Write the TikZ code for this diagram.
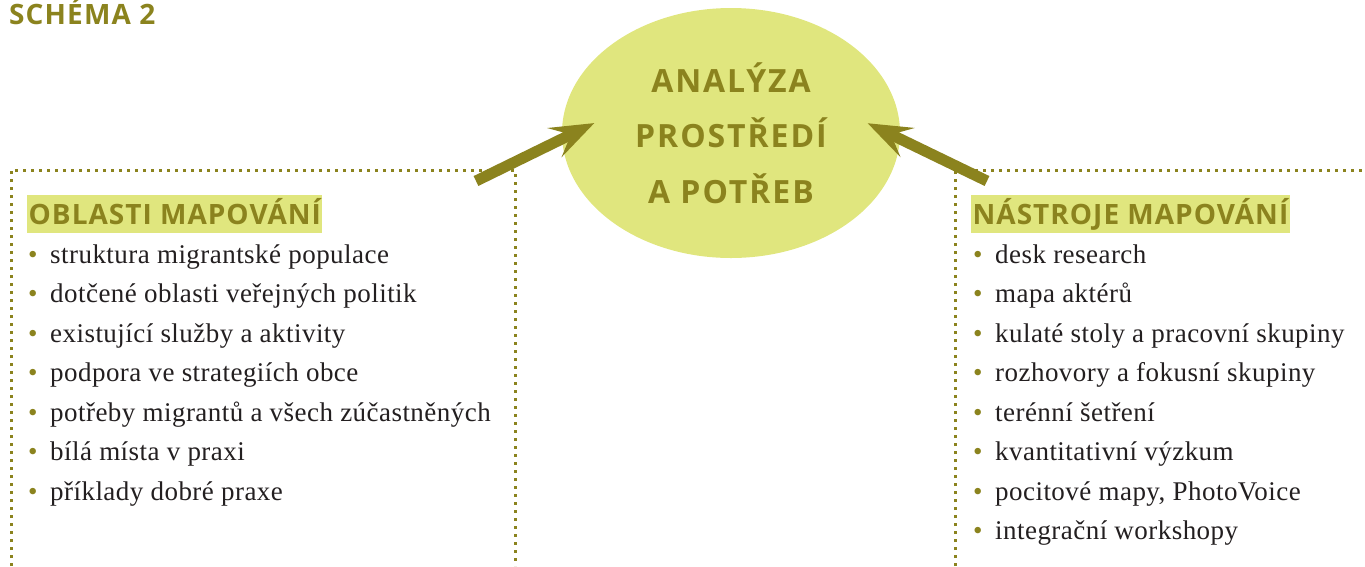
\documentclass[tikz,border=0pt]{standalone}
\usepackage{fontspec}
\setmainfont{Liberation Serif}[LetterSpace=1.7]
\newfontfamily\headfont{Open Sans}
\usetikzlibrary{arrows.meta}
\usetikzlibrary{shapes.geometric}
\definecolor{olivedark}{RGB}{139,131,30}
\definecolor{limefill}{RGB}{224,230,126}
\definecolor{bodygray}{RGB}{35,31,32}
\newcommand{\bul}{\makebox[22pt][l]{\textcolor{olivedark}{•}}}

\begin{document}
\begin{tikzpicture}[x=1pt,y=-1pt,
  dotline/.style={olivedark, line width=3pt, dash pattern=on 3pt off 5pt},
  bigarrow/.style={olivedark, line width=11pt, -{Stealth[length=44pt,width=32pt,inset=18pt]}},
  heading/.style={anchor=north west, fill=limefill, text=olivedark, inner xsep=1.5pt, inner ysep=0pt,
    minimum height=38pt, text height=20pt, text depth=0pt,
    font=\headfont\bfseries\addfontfeatures{LetterSpace=3.6}\fontsize{28}{30}\selectfont},
  item/.style={anchor=base west, inner sep=0pt, text=bodygray, font=\fontsize{27}{30}\selectfont}]
\useasboundingbox (0,0) rectangle (1365,566);
% title
\node[anchor=base west, inner sep=0pt, text=olivedark,
  font=\headfont\bfseries\addfontfeatures{LetterSpace=4}\fontsize{28}{30}\selectfont] (schema) at (9,24) {SCHÉMA 2};
% dotted frames
\draw[dotline] (11,566) -- (11,170) -- (515,170) -- (515,566);
\draw[dotline] (955,566) -- (955,170) -- (1365,170);
% central ellipse
\node[ellipse, fill=limefill, minimum width=338pt, minimum height=250pt, inner sep=0pt, align=center, text=olivedark,
  font=\headfont\bfseries\addfontfeatures{LetterSpace=6}\fontsize{32}{55.5}\selectfont] (analyza) at (731,133) {ANALÝZA\\PROSTŘEDÍ\\A POTŘEB};
% arrows into the ellipse
\coordinate (tailL) at (476,181);
\coordinate (tailR) at (987,181);
\draw[bigarrow, shorten >=-36pt] (tailL) -- (analyza.182);
\draw[bigarrow, shorten >=-36pt] (tailR) -- (analyza.-2);
% headings
\node[heading] (oblasti) at (27,195) {OBLASTI MAPOVÁNÍ};
\node[heading] (nastroje) at (971,195) {NÁSTROJE MAPOVÁNÍ};
% left list
\node[item] (l1) at (28,263) {\bul struktura migrantské populace};
\node[item] (l2) at (28,302.5) {\bul dotčené oblasti veřejných politik};
\node[item] (l3) at (28,342) {\bul existující služby a aktivity};
\node[item] (l4) at (28,381.5) {\bul podpora ve strategiích obce};
\node[item] (l5) at (28,421) {\bul potřeby migrantů a všech zúčastněných};
\node[item] (l6) at (28,460.5) {\bul bílá místa v praxi};
\node[item] (l7) at (28,500) {\bul příklady dobré praxe};
% right list
\node[item] (r1) at (973,263) {\bul desk research};
\node[item] (r2) at (973,302.5) {\bul mapa aktérů};
\node[item] (r3) at (973,342) {\bul kulaté stoly a pracovní skupiny};
\node[item] (r4) at (973,381.5) {\bul rozhovory a fokusní skupiny};
\node[item] (r5) at (973,421) {\bul terénní šetření};
\node[item] (r6) at (973,460.5) {\bul kvantitativní výzkum};
\node[item] (r7) at (973,500) {\bul pocitové mapy, PhotoVoice};
\node[item] (r8) at (973,539.5) {\bul integrační workshopy};
\end{tikzpicture}
\end{document}
